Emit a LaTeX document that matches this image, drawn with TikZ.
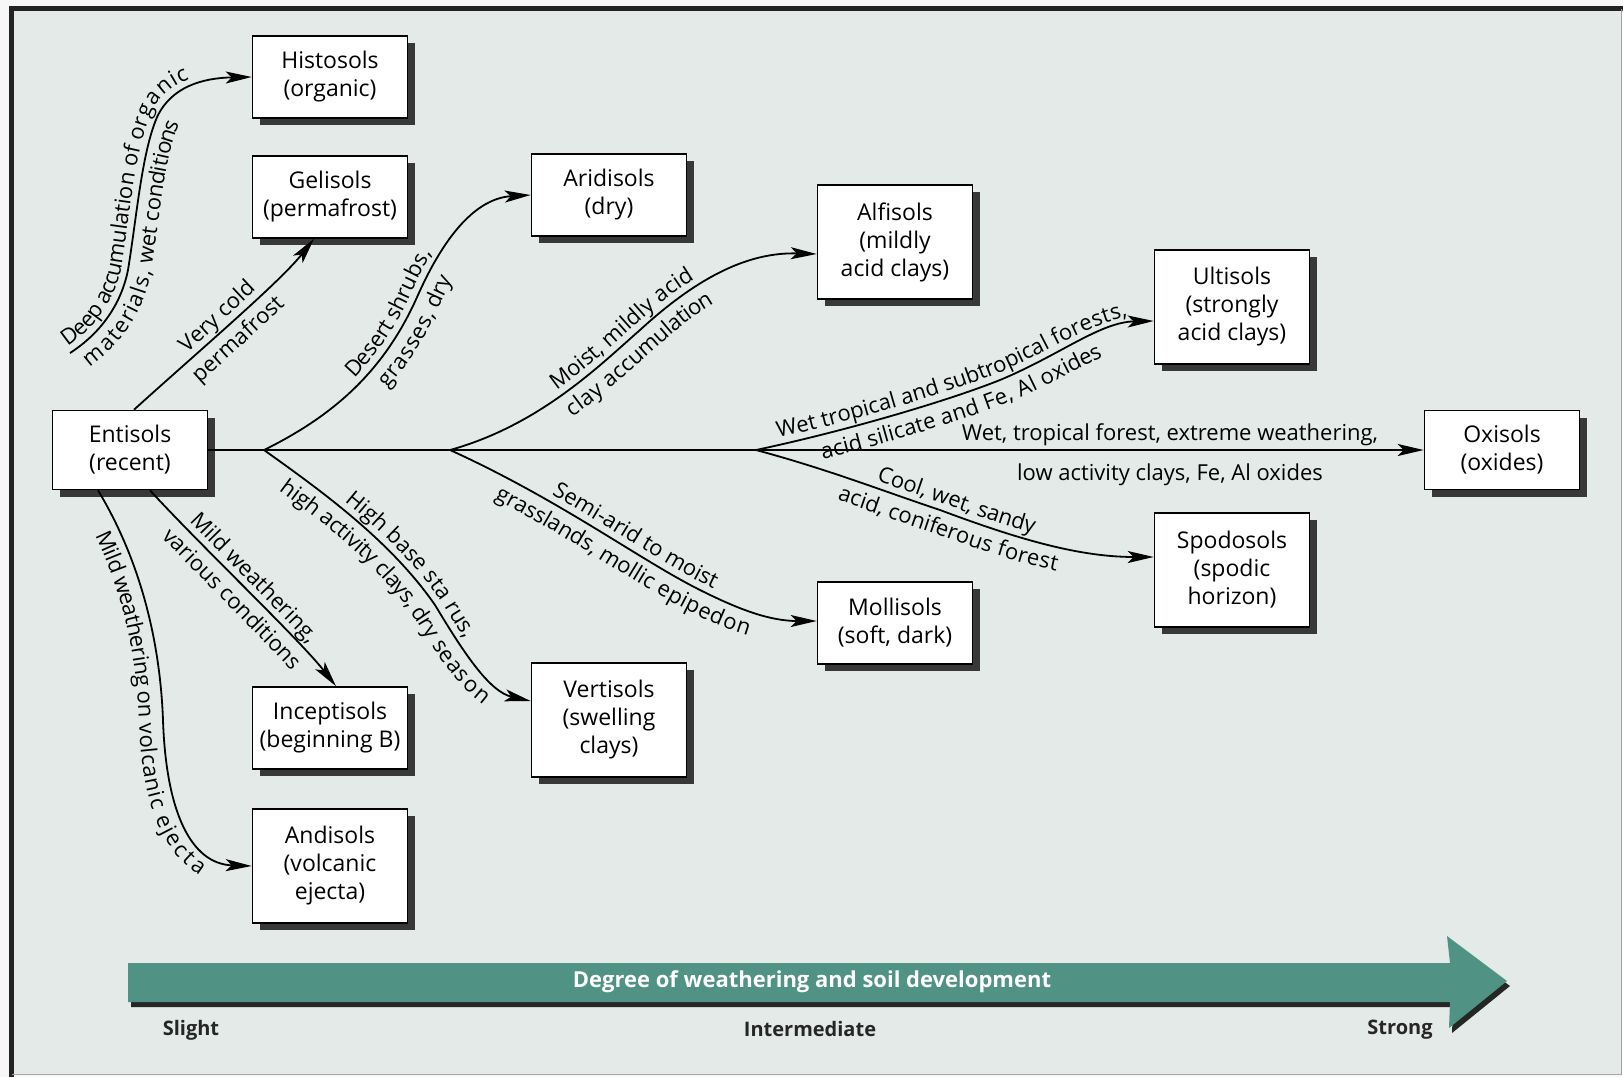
\documentclass[tikz,border=0pt]{standalone}
\usepackage{fontspec}
\setmainfont{Open Sans}
\usetikzlibrary{arrows.meta,decorations.text,shadows,calc}
\definecolor{bgc}{RGB}{227,234,231}
\definecolor{tealc}{RGB}{80,146,131}
\definecolor{framec}{RGB}{35,35,35}
\newcommand\boxfont{\fontsize{11.5pt}{14pt}\selectfont}
\newcommand\lblfont{\fontsize{11pt}{13pt}\selectfont}
\newcommand\scalefont{\fontsize{10pt}{12pt}\selectfont\bfseries}
\begin{document}
\begin{tikzpicture}[x=0.5pt,y=-0.5pt,
 soil/.style={draw=black, line width=0.8pt, fill=white, minimum width=77.5pt, minimum height=41pt, inner sep=0pt, align=center, font=\boxfont, drop shadow={shadow xshift=3.5pt, shadow yshift=-3.5pt, opacity=1, fill=black!78}},
 tall/.style={minimum height=57pt},
 conn/.style={line width=0.9pt, -{Stealth[length=13pt,width=6pt,inset=3pt]}},
 uptext/.style={decorate, decoration={text along path, text={|\lblfont|#1}, text align=center, raise=3.5pt}},
 downtext/.style={decorate, decoration={text along path, text={|\lblfont|#1}, text align=center, raise=-12pt}},
 uptextL/.style 2 args={decorate, decoration={text along path, text={|\lblfont|#1}, text align={left, left indent=#2}, raise=3.5pt}},
 downtextL/.style 2 args={decorate, decoration={text along path, text={|\lblfont|#1}, text align={left, left indent=#2}, raise=-11.5pt}},
 lbl/.style={font=\lblfont, inner sep=0pt},
]
\useasboundingbox (0,0) rectangle (1623,1077);
% background and frame
\fill[black!3] (0,0) rectangle (1623,1077);
\fill[bgc] (12,8) rectangle (1621,1074);
\draw[framec, line width=2.3pt] (11.5,1077) -- (11.5,8.5) -- (1623,8.5);
\draw[black!35, line width=0.5pt] (12,1074) -- (1621,1074) -- (1621,9);

% soil boxes
\node[soil] (histo) at (330,77) {Histosols\\(organic)};
\node[soil] (geli) at (330,197) {Gelisols\\(permafrost)};
\node[soil, minimum height=39.5pt] (ent) at (130,450) {Entisols\\(recent)};
\node[soil] (arid) at (609,195) {Aridisols\\(dry)};
\node[soil, tall] (alfi) at (895,242) {Alfisols\\(mildly\\acid clays)};
\node[soil, tall] (ulti) at (1232,307) {Ultisols\\(strongly\\acid clays)};
\node[soil, minimum height=39.5pt] (oxi) at (1502,450) {Oxisols\\(oxides)};
\node[soil, tall] (spod) at (1232,570) {Spodosols\\(spodic\\horizon)};
\node[soil] (moll) at (895,623) {Mollisols\\(soft, dark)};
\node[soil, tall] (vert) at (609,720) {Vertisols\\(swelling\\clays)};
\node[soil] (incep) at (330,728) {Inceptisols\\(beginning B)};
\node[soil, tall] (andi) at (330,866) {Andisols\\(volcanic\\ejecta)};

% junctions
\coordinate (j1) at (264,450);
\coordinate (j2) at (450,450);
\coordinate (j3) at (756,450);
\coordinate (hstart) at (70,353);

% connectors
\draw[conn] (ent.east) -- (oxi.west);
\draw[conn, postaction={uptext={Very cold}}, postaction={downtext={permafrost}}]
  ($(ent.north)+(4,0)$) .. controls (200,350) and (280,282) .. ($(geli.south)+(-16,0)$);
\draw[conn, postaction={uptextL={Deep accumulation of organic}{1pt}}, postaction={downtextL={materials, wet conditions}{3pt}}]
  (hstart) .. controls (95,337) and (120,310) .. (128,270) .. controls (137,215) and (142,150) .. (158,115) .. controls (172,88) and (200,78) .. (histo.west);
\draw[conn, postaction={uptext={Desert shrubs,}}, postaction={downtext={grasses, dry}}]
  (j1) .. controls (335,415) and (385,370) .. (418,295) .. controls (448,228) and (480,198) .. (arid.west);
\draw[conn, postaction={uptext={High base sta rus,}}, postaction={downtext={high activity clays, dry season}}]
  (j1) .. controls (320,490) and (390,540) .. (435,605) .. controls (465,655) and (490,692) .. ($(vert.west)+(0,-19)$);
\draw[conn, postaction={uptext={Moist, mildly acid}}, postaction={downtext={clay accumulation}}]
  (j2) .. controls (540,425) and (600,365) .. (640,330) .. controls (700,275) and (750,252) .. ($(alfi.west)+(0,12)$);
\draw[conn, postaction={uptext={Semi-arid to moist}}, postaction={downtext={grasslands, mollic epipedon}}]
  (j2) .. controls (560,500) and (640,560) .. (700,590) .. controls (740,610) and (770,621) .. ($(moll.west)+(0,-2)$);
\draw[conn, postaction={uptext={Wet tropical and subtropical forests,}}, postaction={downtext={acid silicate and Fe, Al oxides}}]
  (j3) .. controls (850,430) and (950,400) .. (1000,380) .. controls (1060,355) and (1100,322) .. ($(ulti.west)+(0,14)$);
\draw[conn, postaction={uptext={Cool, wet, sandy}}, postaction={downtext={acid, coniferous forest}}]
  (j3) .. controls (830,470) and (880,490) .. (940,510) .. controls (1020,540) and (1080,557) .. ($(spod.west)+(0,-13)$);
\draw[conn, postaction={uptext={Mild weathering,}}, postaction={downtext={various conditions}}]
  ($(ent.south)+(20,0)$) .. controls (200,545) and (300,640) .. ($(incep.north)+(6,0)$);
\draw[conn, postaction={downtext={Mild weathering on volcanic ejecta}}]
  ($(ent.south)+(-32,0)$) .. controls (140,560) and (160,640) .. (163,720) .. controls (166,810) and (190,864) .. (andi.west);

% main line labels
\node[lbl, anchor=base] (wtf) at (1170,440) {Wet, tropical forest, extreme weathering,};
\node[lbl, anchor=base] (lac) at (1170,480) {low activity clays, Fe, Al oxides};

% big arrow
\fill[black!85, shift={(3,5)}] (128,963) -- (1450,963) -- (1447,936) -- (1507,981) -- (1449,1028) -- (1450,1002) -- (128,1002) -- cycle;
\fill[tealc] (128,963) -- (1450,963) -- (1447,936) -- (1507,981) -- (1449,1028) -- (1450,1002) -- (128,1002) -- cycle;
\node[font=\fontsize{11pt}{12pt}\selectfont\bfseries, text=white, inner sep=0pt] (degree) at (812,982) {Degree of weathering and soil development};
\node[font=\scalefont, text=black!85, inner sep=0pt] (slight) at (191,1030) {Slight};
\node[font=\scalefont, text=black!85, inner sep=0pt] (inter) at (810,1029) {Intermediate};
\node[font=\scalefont, text=black!85, inner sep=0pt] (strong) at (1400,1030) {Strong};
\end{tikzpicture}
\end{document}
